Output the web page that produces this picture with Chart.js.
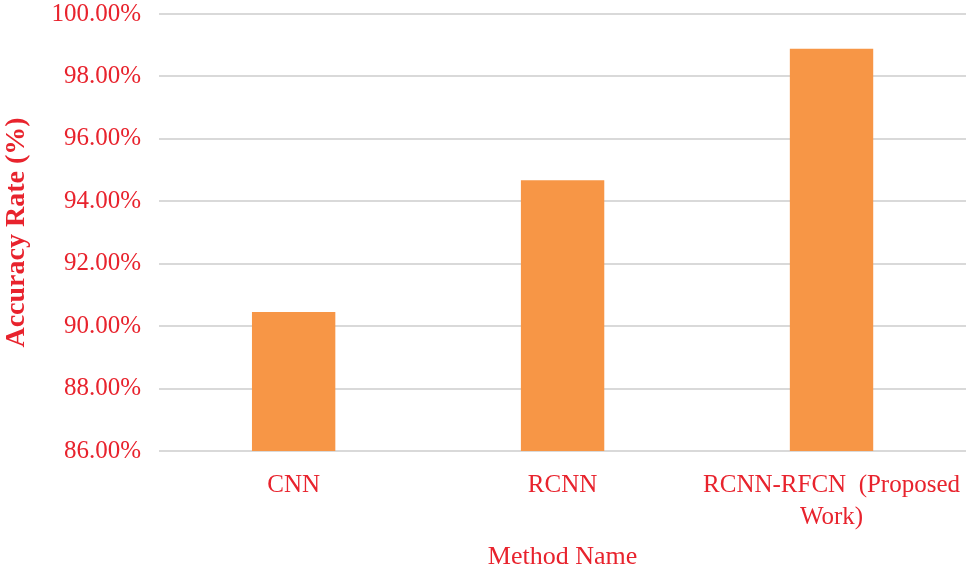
<!DOCTYPE html>
<html>
<head>
<meta charset="utf-8">
<script src="https://cdn.jsdelivr.net/npm/chart.js@4"></script>
<style>
  html, body { margin: 0; padding: 0; background: #fff; }
  #wrap { width: 966px; height: 571px; }
</style>
</head>
<body>
<div id="wrap"><canvas id="accChart"></canvas></div>
<script>
// data
const methods = ["CNN", "RCNN", ["RCNN-RFCN  (Proposed", "Work)"]];
const accuracy = [90.45, 94.67, 98.89];
const yTicks = [86, 88, 90, 92, 94, 96, 98, 100];

const red = "#e8232d";
const serif = "'Liberation Serif', 'Times New Roman', serif";

new Chart(document.getElementById("accChart"), {
  type: "bar",
  data: {
    labels: methods,
    datasets: [{
      label: "Accuracy Rate",
      data: accuracy,
      backgroundColor: "#f79646",
      barPercentage: 0.31,
      categoryPercentage: 1
    }]
  },
  options: {
    responsive: true,
    maintainAspectRatio: false,
    animation: false,
    layout: { padding: { top: 14, right: 0, left: 0, bottom: 0 } },
    plugins: { legend: { display: false }, tooltip: { enabled: false } },
    scales: {
      x: {
        grid: { display: false },
        border: { display: false },
        ticks: { color: red, font: { family: serif, size: 25, lineHeight: 1.3 }, padding: 10, maxRotation: 0 },
        afterFit: s => { s.paddingLeft = 0; s.paddingRight = 0; },
        title: {
          display: true, text: "Method Name", color: red,
          font: { family: serif, size: 26, lineHeight: 1 }, padding: { top: 0, bottom: 1 }
        }
      },
      y: {
        min: 86, max: 100,
        afterBuildTicks: axis => { axis.ticks = yTicks.map(v => ({ value: v })); },
        afterFit: s => { s.paddingTop = 0; s.paddingBottom = 0; },
        grid: { color: "#d9d9d9", lineWidth: 2, drawTicks: false },
        border: { display: false },
        ticks: {
          color: red, font: { family: serif, size: 25 }, padding: 18,
          callback: v => v.toFixed(2) + "%"
        },
        title: {
          display: true, text: "Accuracy Rate (%)", color: red,
          font: { family: serif, size: 28, weight: "bold" }, padding: { top: 0, bottom: 0 }
        }
      }
    }
  }
});
</script>
</body>
</html>
